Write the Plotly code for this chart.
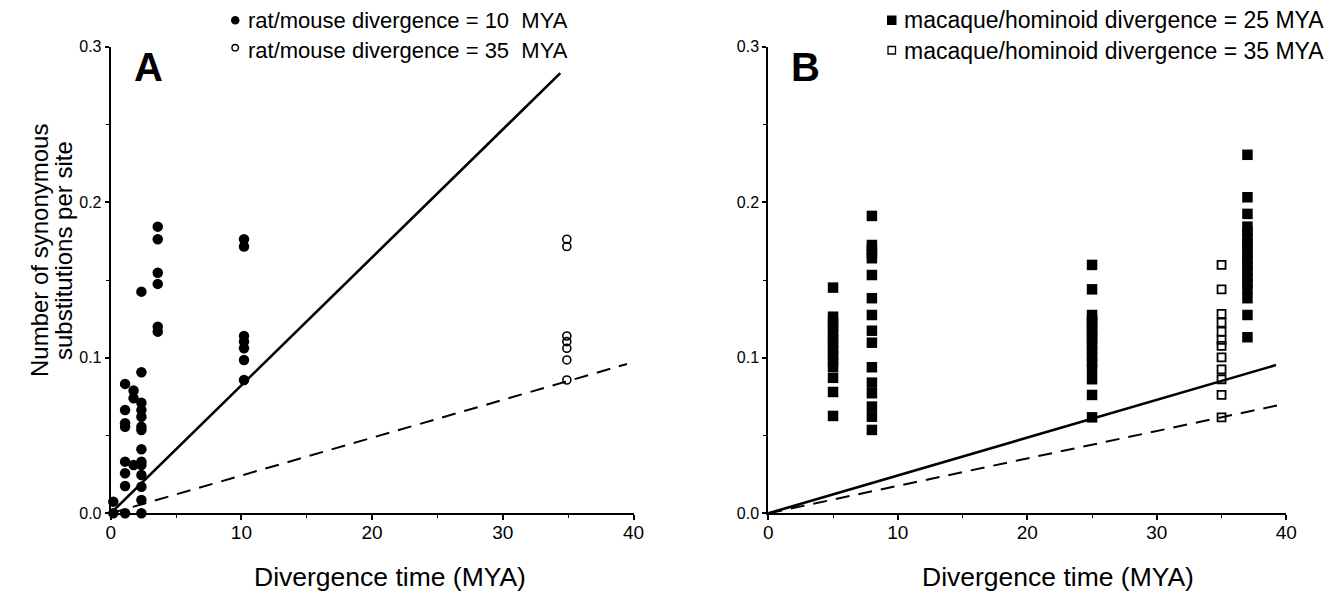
import plotly.graph_objects as go

# page is 1336x598; the html body has an 8px margin, so the figure is placed at (8, 8)
PAGE_OFF = 8
W, H = 1328, 590

# ---------------- Panel A data (rat/mouse) ----------------
a_filled_x = [0.2, 0.2,
              1.1, 1.1, 1.1, 1.1, 1.1, 1.1, 1.1, 1.1,
              1.75, 1.75, 1.75,
              2.35, 2.35, 2.35, 2.35, 2.35, 2.35, 2.35, 2.35, 2.35, 2.35, 2.35, 2.35, 2.35, 2.35,
              3.6, 3.6, 3.6, 3.6, 3.6, 3.6,
              10.2, 10.2, 10.2, 10.2, 10.2, 10.2, 10.2]
a_filled_y = [0.0075, 0.0,
              0.0832, 0.0664, 0.0579, 0.0557, 0.0332, 0.0257, 0.0176, 0.0,
              0.0789, 0.0740, 0.0310,
              0.1425, 0.0907, 0.0711, 0.0664, 0.0621, 0.0557, 0.0536, 0.0412, 0.0332, 0.0310, 0.0246, 0.0171, 0.0086, 0.0,
              0.1843, 0.1762, 0.1547, 0.1475, 0.1200, 0.1168,
              0.1762, 0.1715, 0.1140, 0.1104, 0.1061, 0.0986, 0.0857]
a_open_x = [34.9, 34.9, 34.9, 34.9, 34.9, 34.9, 34.9]
a_open_y = [0.1762, 0.1715, 0.1140, 0.1104, 0.1061, 0.0986, 0.0857]
a_solid_x = [0, 34.4]
a_solid_y = [0, 0.283]
a_dash_x = [0, 39.5]
a_dash_y = [0, 0.096]

# ---------------- Panel B data (macaque/hominoid) ----------------
b_filled_x = [5, 5, 5, 5, 5, 5, 5, 5, 5, 5, 5, 5, 5, 5,
              8, 8, 8, 8, 8, 8, 8, 8, 8, 8, 8, 8, 8, 8, 8, 8,
              25, 25, 25, 25, 25, 25, 25, 25, 25, 25, 25, 25, 25, 25, 25, 25, 25,
              37, 37, 37, 37, 37, 37, 37, 37, 37, 37, 37, 37, 37, 37, 37, 37, 37, 37]
b_filled_y = [0.1451, 0.1264, 0.1228, 0.1197, 0.1160, 0.1121, 0.1089, 0.1052, 0.1013, 0.0978, 0.0941, 0.0871, 0.0780, 0.0626,
              0.1912, 0.1725, 0.1695, 0.1668, 0.1640, 0.1532, 0.1383, 0.1275, 0.1174, 0.1097, 0.0939, 0.0840, 0.0772, 0.0686, 0.0621, 0.0536,
              0.1597, 0.1440, 0.1275, 0.1245, 0.1226, 0.1195, 0.1168, 0.1140, 0.1115, 0.1076, 0.1045, 0.1003, 0.0970, 0.0926, 0.0862, 0.0761, 0.0617,
              0.2305, 0.2032, 0.1925, 0.1843, 0.1808, 0.1771, 0.1735, 0.1702, 0.1664, 0.1629, 0.1590, 0.1556, 0.1518, 0.1480, 0.1441, 0.1383, 0.1275, 0.1132]
b_open_x = [35, 35, 35, 35, 35, 35, 35, 35, 35, 35, 35, 35]
b_open_y = [0.1597, 0.1440, 0.1282, 0.1226, 0.1168, 0.1115, 0.1076, 0.1003, 0.0926, 0.0862, 0.0761, 0.0617]
b_solid_x = [0, 39.2]
b_solid_y = [0, 0.0953]
b_dash_x = [0, 39.4]
b_dash_y = [0, 0.0695]

x_ticks = [0, 10, 20, 30, 40]
y_ticks = [0.0, 0.1, 0.2, 0.3]
y_ticktext = ["0.0", "0.1", "0.2", "0.3"]

legend_a = ["rat/mouse divergence = 10  MYA", "rat/mouse divergence = 35  MYA"]
legend_b = ["macaque/hominoid divergence = 25 MYA", "macaque/hominoid divergence = 35 MYA"]
x_title = "Divergence time (MYA)"
y_title = ["Number of synonymous", "substitutions per site"]

FONT = "Liberation Sans, Arial, Helvetica, sans-serif"


def px(x):
    return (x - PAGE_OFF) / W


def py(y):
    return 1 - (y - PAGE_OFF) / H


fig = go.Figure()

# Panel A
fig.add_trace(go.Scatter(x=a_solid_x, y=a_solid_y, mode="lines", line=dict(color="black", width=2.6),
                         xaxis="x", yaxis="y", showlegend=False, cliponaxis=False))
fig.add_trace(go.Scatter(x=a_dash_x, y=a_dash_y, mode="lines", line=dict(color="black", width=2, dash="14px,9px"),
                         xaxis="x", yaxis="y", showlegend=False, cliponaxis=False))
fig.add_trace(go.Scatter(x=a_filled_x, y=a_filled_y, mode="markers",
                         marker=dict(symbol="circle", size=10.5, color="black", line=dict(width=0)),
                         xaxis="x", yaxis="y", showlegend=False, cliponaxis=False))
fig.add_trace(go.Scatter(x=a_open_x, y=a_open_y, mode="markers",
                         marker=dict(symbol="circle-open", size=8, color="black", line=dict(width=1.6, color="black")),
                         xaxis="x", yaxis="y", showlegend=False, cliponaxis=False))

# Panel B
fig.add_trace(go.Scatter(x=b_solid_x, y=b_solid_y, mode="lines", line=dict(color="black", width=2.6),
                         xaxis="x2", yaxis="y2", showlegend=False, cliponaxis=False))
fig.add_trace(go.Scatter(x=b_dash_x, y=b_dash_y, mode="lines", line=dict(color="black", width=2, dash="14px,9px"),
                         xaxis="x2", yaxis="y2", showlegend=False, cliponaxis=False))
fig.add_trace(go.Scatter(x=b_filled_x, y=b_filled_y, mode="markers",
                         marker=dict(symbol="square", size=10.5, color="black", line=dict(width=0)),
                         xaxis="x2", yaxis="y2", showlegend=False, cliponaxis=False))
fig.add_trace(go.Scatter(x=b_open_x, y=b_open_y, mode="markers",
                         marker=dict(symbol="square-open", size=8, color="black", line=dict(width=1.8, color="black")),
                         xaxis="x2", yaxis="y2", showlegend=False, cliponaxis=False))

y_dom = [py(513.3), py(46.7)]


def xaxis(dom):
    return dict(domain=dom, range=[0, 40], tickvals=x_ticks, ticks="outside", ticklen=5, tickwidth=1.5,
                tickcolor="black", showline=True, linewidth=2, linecolor="black", showgrid=False,
                zeroline=False, tickfont=dict(family=FONT, size=19, color="black"),
                ticklabelstandoff=-4,
                minor=dict(ticks="outside", ticklen=3, tickwidth=1.2, tickcolor="black", dtick=5, tick0=0,
                           showgrid=False))


def yaxis(anchor):
    return dict(domain=y_dom, anchor=anchor, range=[0, 0.3], tickvals=y_ticks, ticktext=y_ticktext,
                ticks="outside", ticklen=4, tickwidth=1.5, tickcolor="black", showline=True, linewidth=2,
                linecolor="black", showgrid=False, zeroline=False,
                tickfont=dict(family=FONT, size=16, color="black"),
                minor=dict(ticks="outside", ticklen=3, tickwidth=1.2, tickcolor="black", dtick=0.05, tick0=0,
                           showgrid=False))


fig.update_layout(
    width=W, height=H,
    margin=dict(l=0, r=0, t=0, b=0, autoexpand=False),
    paper_bgcolor="white", plot_bgcolor="white",
    showlegend=False,
    xaxis=dict(**xaxis([px(110.7), px(633.5)]), anchor="y"),
    yaxis=yaxis("x"),
    xaxis2=dict(**xaxis([px(768.3), px(1286.3)]), anchor="y2"),
    yaxis2=yaxis("x2"),
)

ann = []


def text(x, y, t, size, bold=False, xanchor="center", angle=0):
    ann.append(dict(x=px(x), y=py(y), xref="paper", yref="paper", text=("<b>%s</b>" % t) if bold else t,
                    showarrow=False, xanchor=xanchor, yanchor="middle", textangle=angle,
                    font=dict(family=FONT, size=size, color="black")))


# panel letters
text(148, 67, "A", 40, bold=True)
text(805, 67, "B", 40, bold=True)

# legends
text(246, 20, legend_a[0], 22, xanchor="left")
text(246, 51, legend_a[1], 22, xanchor="left")
text(902, 20, legend_b[0], 23, xanchor="left")
text(902, 51, legend_b[1], 23, xanchor="left")

# axis titles
text(390, 577, x_title, 26.5)
text(1057.5, 577, x_title, 26.5)
text(39, 251, y_title[0], 24, angle=-90)
text(63, 251, y_title[1], 24, angle=-90)

fig.update_layout(annotations=ann)

# legend keys
shapes = [
    dict(type="circle", xref="paper", yref="paper", x0=px(231), x1=px(239.5), y0=py(24.5), y1=py(16),
         fillcolor="black", line=dict(color="black", width=0)),
    dict(type="circle", xref="paper", yref="paper", x0=px(232), x1=px(238.5), y0=py(51), y1=py(44.5),
         fillcolor="white", line=dict(color="black", width=1.4)),
    dict(type="rect", xref="paper", yref="paper", x0=px(887), x1=px(896.5), y0=py(25), y1=py(15.5),
         fillcolor="black", line=dict(color="black", width=0)),
    dict(type="rect", xref="paper", yref="paper", x0=px(888), x1=px(895.5), y0=py(54), y1=py(46.5),
         fillcolor="white", line=dict(color="black", width=1.3)),
]
fig.update_layout(shapes=shapes)

fig.write_html("out.html")
